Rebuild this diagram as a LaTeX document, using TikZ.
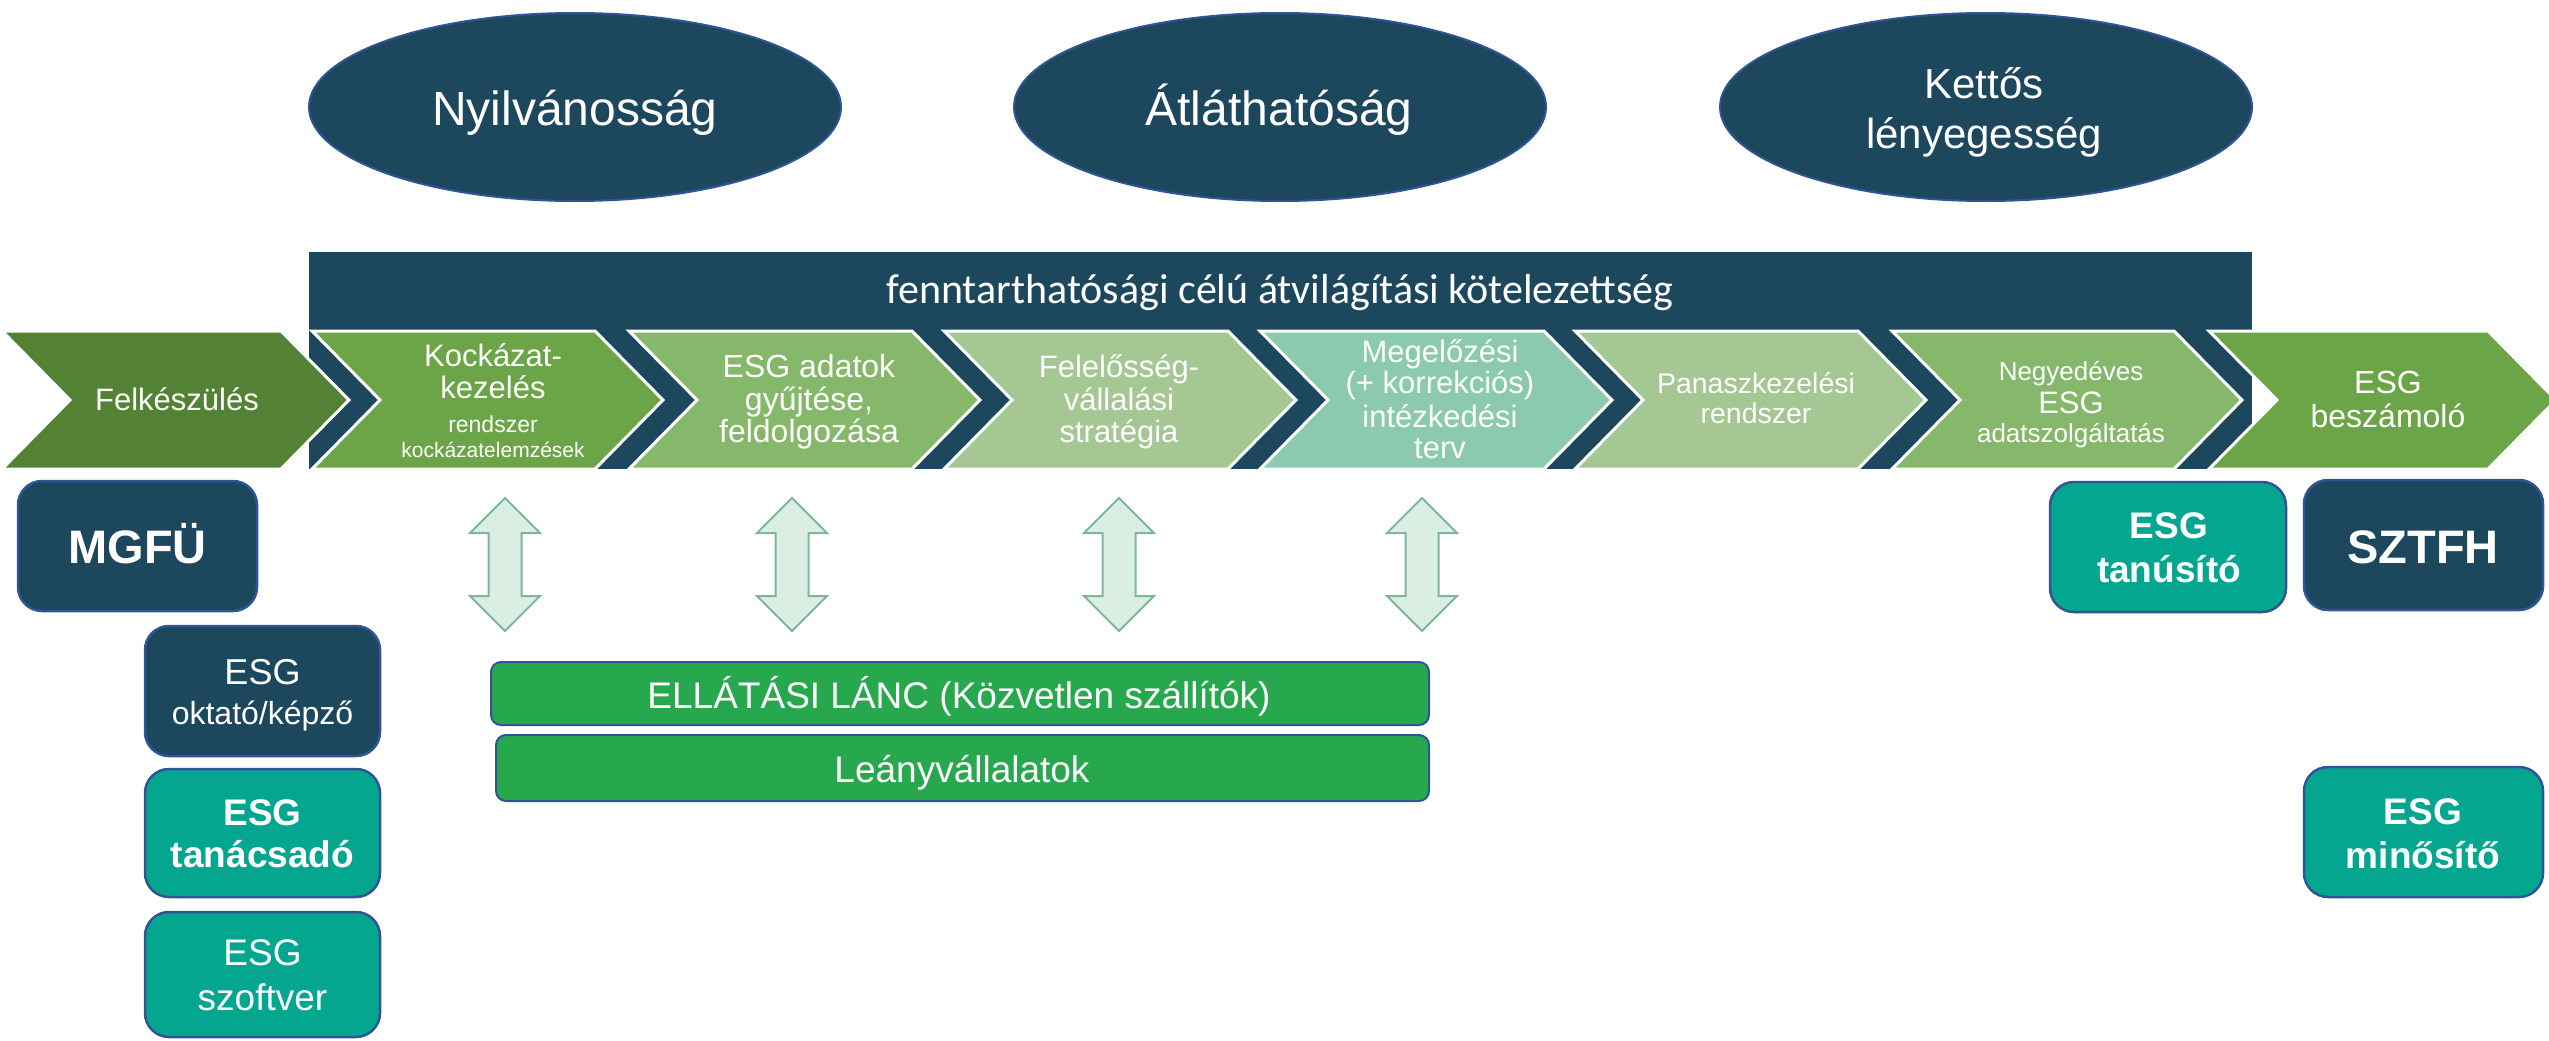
\documentclass[tikz,border=0pt]{standalone}
\usepackage{fontspec}
\setmainfont{Liberation Sans}
\newfontfamily\calibfont{Carlito}
\usetikzlibrary{shapes.geometric}
\definecolor{cnavy}{HTML}{1C475C}
\definecolor{cedge}{HTML}{2F5597}
\definecolor{cteal}{HTML}{05A68F}
\definecolor{cgbox}{HTML}{28A84E}
\definecolor{cgA}{HTML}{548235}
\definecolor{cgB}{HTML}{6BA547}
\definecolor{cgC}{HTML}{85B86A}
\definecolor{cgD}{HTML}{A4C793}
\definecolor{cgE}{HTML}{8BCAAE}
\definecolor{carfill}{HTML}{DBEEE3}
\definecolor{carline}{HTML}{7DB59E}
\newcommand\chevshape[3]{\filldraw[fill=#3, draw=white, line width=3pt] (#1,331) -- ++(#2,0) -- ++(68,69) -- ++(-68,69) -- ++(-#2,0) -- ++(68,-69) -- cycle;}
\newcommand\dblarrow[1]{\filldraw[fill=carfill, draw=carline, line width=2pt] (#1,498) -- ++(35,35) -- ++(-18.5,0) -- ++(0,63) -- ++(18.5,0) -- ++(-35,35) -- ++(-35,-35) -- ++(18.5,0) -- ++(0,-63) -- ++(-18.5,0) -- cycle;}
\newcommand\fs[1]{\fontsize{#1}{#1}\selectfont}
\begin{document}
\begin{tikzpicture}[x=1pt,y=-1pt,
  lbl/.style={text=white, anchor=base, inner sep=0pt},
  oval/.style={ellipse, fill=cnavy, draw=cedge, line width=2pt, minimum width=532pt, minimum height=188pt, inner sep=0pt},
  rbox/.style={rectangle, rounded corners=24pt, draw=cedge, line width=2.5pt, inner sep=0pt},
  gbox/.style={rectangle, rounded corners=10pt, fill=cgbox, draw=cedge, line width=2pt, inner sep=0pt}]
\useasboundingbox (0,0) rectangle (2549,1041);
\clip (0,0) rectangle (2549,1041);
% ellipses
\node[oval] (e1) at (575,107) {};
\node[oval] (e2) at (1280,107) {};
\node[oval] (e3) at (1986,107) {};
\node[lbl, font=\fs{48}] (e1t) at (575,125) {Nyilvánosság};
\node[lbl, font=\fs{48}] (e2t) at (1279,125) {Átláthatóság};
\node[lbl, font=\fs{42}] (e3a) at (1984,98) {Kettős};
\node[lbl, font=\fs{42}] (e3b) at (1984,148) {lényegesség};
% bar
\fill[cnavy] (309,252) rectangle (2252,469);
\node[lbl, font=\calibfont\fs{42}] (bart) at (1280,303) {fenntarthatósági célú átvilágítási kötelezettség};
% chevrons
\chevshape{2}{279}{cgA}
\chevshape{312}{283}{cgB}
\chevshape{629}{283}{cgC}
\chevshape{944}{284}{cgD}
\chevshape{1260}{284}{cgE}
\chevshape{1575}{283}{cgD}
\chevshape{1892}{282}{cgC}
\chevshape{2209}{279}{cgB}
% chevron texts
\node[lbl, font=\fs{31}] (c0) at (177,410) {Felkészülés};
\node[lbl, font=\fs{31}] (c1a) at (493,366) {Kockázat-};
\node[lbl, font=\fs{31}] (c1b) at (493,398) {kezelés};
\node[lbl, font=\fs{23}] (c1c) at (493,432) {rendszer};
\node[lbl, font=\fs{21}] (c1d) at (493,457) {kockázatelemzések};
\node[lbl, font=\fs{32}] (c2a) at (809,377) {ESG adatok};
\node[lbl, font=\fs{32}] (c2b) at (809,410) {gyűjtése,};
\node[lbl, font=\fs{32}] (c2c) at (809,442) {feldolgozása};
\node[lbl, font=\fs{31}] (c3a) at (1119,377) {Felelősség-};
\node[lbl, font=\fs{31}] (c3b) at (1119,410) {vállalási};
\node[lbl, font=\fs{31}] (c3c) at (1119,442) {stratégia};
\node[lbl, font=\fs{31}] (c4a) at (1440,362) {Megelőzési};
\node[lbl, font=\fs{31}] (c4b) at (1440,393) {(+ korrekciós)};
\node[lbl, font=\fs{31}] (c4c) at (1440,427) {intézkedési};
\node[lbl, font=\fs{31}] (c4d) at (1440,458) {terv};
\node[lbl, font=\fs{28.5}] (c5a) at (1756,393) {Panaszkezelési};
\node[lbl, font=\fs{28.5}] (c5b) at (1756,423) {rendszer};
\node[lbl, font=\fs{26}] (c6a) at (2071,380) {Negyedéves};
\node[lbl, font=\fs{31}] (c6b) at (2071,413) {ESG};
\node[lbl, font=\fs{26}] (c6c) at (2071,442) {adatszolgáltatás};
\node[lbl, font=\fs{32}] (c7a) at (2388,393) {ESG};
\node[lbl, font=\fs{32}] (c7b) at (2388,427) {beszámoló};
% double arrows
\dblarrow{505}
\dblarrow{792}
\dblarrow{1119}
\dblarrow{1422}
% green boxes
\node[gbox, minimum width=938pt, minimum height=63pt] (ell) at (960,693.5) {};
\node[gbox, minimum width=933pt, minimum height=66pt] (lea) at (962.5,768) {};
\node[lbl, font=\fs{37}] (ellt) at (959,708) {ELLÁTÁSI LÁNC (Közvetlen szállítók)};
\node[lbl, font=\fs{37}] (leat) at (962,782) {Leányvállalatok};
% left boxes
\node[rbox, fill=cnavy, minimum width=239pt, minimum height=130pt] (mgfu) at (137.5,546) {};
\node[lbl, font=\bfseries\fs{47}] (mgfut) at (137.5,563) {MGFÜ};
\node[rbox, fill=cnavy, minimum width=235pt, minimum height=130pt] (okt) at (262.5,691) {};
\node[lbl, font=\fs{36}] (okta) at (262.5,684) {ESG};
\node[lbl, font=\fs{32}] (oktb) at (262.5,724) {oktató/képző};
\node[rbox, fill=cteal, minimum width=235pt, minimum height=128pt] (tan) at (262.5,833) {};
\node[lbl, font=\bfseries\fs{37}] (tana) at (262.5,825) {ESG};
\node[lbl, font=\bfseries\fs{37}] (tanb) at (262.5,867) {tanácsadó};
\node[rbox, fill=cteal, minimum width=235pt, minimum height=125pt] (szo) at (262.5,974.5) {};
\node[lbl, font=\fs{37}] (szoa) at (262.5,965) {ESG};
\node[lbl, font=\fs{37}] (szob) at (262.5,1010) {szoftver};
% right boxes
\node[rbox, fill=cteal, minimum width=236pt, minimum height=130pt] (tnu) at (2168,547) {};
\node[lbl, font=\bfseries\fs{37}] (tnua) at (2169,538) {ESG};
\node[lbl, font=\bfseries\fs{37}] (tnub) at (2169,582) {tanúsító};
\node[rbox, fill=cnavy, minimum width=239pt, minimum height=130pt] (szt) at (2423.5,545) {};
\node[lbl, font=\bfseries\fs{47}] (sztt) at (2423,563) {SZTFH};
\node[rbox, fill=cteal, minimum width=239pt, minimum height=130pt] (min) at (2423.5,832) {};
\node[lbl, font=\bfseries\fs{37}] (mina) at (2423,824) {ESG};
\node[lbl, font=\bfseries\fs{37}] (minb) at (2423,868) {minősítő};
\end{tikzpicture}
\end{document}
